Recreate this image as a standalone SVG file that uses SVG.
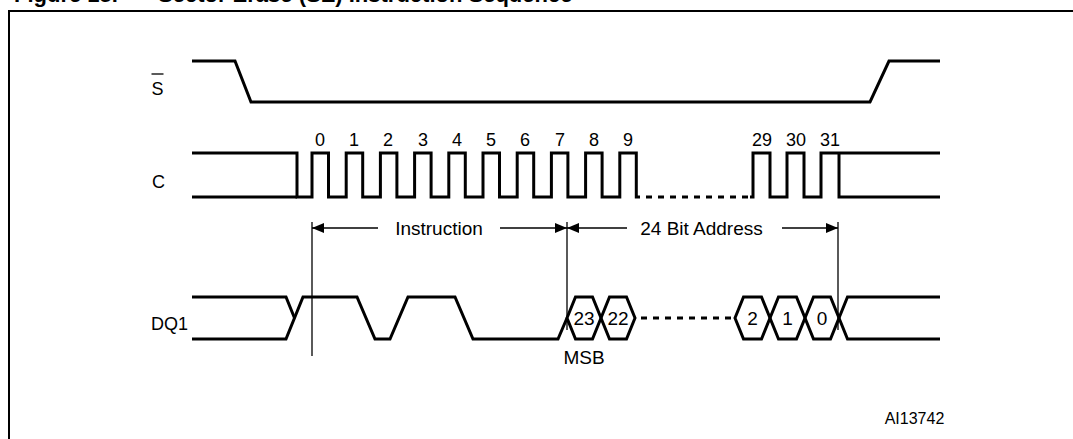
<svg xmlns="http://www.w3.org/2000/svg" width="1073" height="439" viewBox="0 0 1073 439">
<defs>
<marker id="ah" markerWidth="12" markerHeight="10" refX="12" refY="5" orient="auto" markerUnits="userSpaceOnUse">
<path d="M0,0 L12,5 L0,10 Z" fill="#000"/>
</marker>
</defs>
<style>
.sig{fill:none;stroke:#000;stroke-width:3;stroke-linejoin:miter}
.dot{fill:none;stroke:#000;stroke-width:3;stroke-dasharray:6 6}
.thin{fill:none;stroke:#000;stroke-width:1.3}
.t{font-family:"Liberation Sans",Arial,sans-serif;fill:#000}
.lbl{font-size:18px}
.num{font-size:18px;text-anchor:middle}
.mid{font-size:19px;text-anchor:middle}
.title{font-family:"Liberation Sans",Arial,sans-serif;font-weight:bold;font-size:22px}
</style>
<rect width="1073" height="439" fill="#fff"/>
<g id="title">
<text class="title" x="14" y="2">Figure 15.</text>
<text class="title" x="158" y="2">Sector Erase (SE) Instruction Sequence</text>
</g>
<rect x="9" y="11" width="1080" height="440" fill="none" stroke="#000" stroke-width="2"/>

<g id="sig-S">
<text class="t lbl" x="157.5" y="95" text-anchor="middle">S</text>
<line x1="151.5" y1="74" x2="163.5" y2="74" stroke="#000" stroke-width="1.3"/>
<path class="sig" d="M192,61 H235 L251,102 H870 L889,61 H940"/>
</g>

<g id="sig-C">
<text class="t lbl" x="158.5" y="188" text-anchor="middle">C</text>
<path class="sig" d="M192,153 H297 V197 H312 V153 H328.5 V197 H346.2 V153 H362.7 V197 H380.4 V153 H396.9 V197 H414.6 V153 H431.1 V197 H448.8 V153 H465.3 V197 H483 V153 H499.5 V197 H517.2 V153 H533.7 V197 H551.4 V153 H567.9 V197 H585.6 V153 H602.1 V197 H619.8 V153 H636.3 V197 H640"/>
<path class="sig" d="M192,197 H297"/>
<path class="dot" d="M646,197 H750"/>
<path class="sig" d="M750,197 H753 V153 H770 V197 H787 V153 H804 V197 H821 V153 H839 V197 H940 M839,153 H940"/>
<g class="t num">
<text x="320" y="146">0</text><text x="354" y="146">1</text><text x="388" y="146">2</text><text x="423" y="146">3</text><text x="457" y="146">4</text><text x="491" y="146">5</text><text x="525" y="146">6</text><text x="560" y="146">7</text><text x="594" y="146">8</text><text x="628" y="146">9</text>
<text x="762" y="146">29</text><text x="796" y="146">30</text><text x="830" y="146">31</text>
</g>
</g>

<g id="sig-DQ1">
<text class="t lbl" x="151" y="330">DQ1</text>
<path class="sig" d="M192,297 H286 L294.5,318"/>
<path class="sig" d="M192,339 H286 L303,297 H357 L375,339 H390 L408,297 H455 L473,339 H558 L567,318"/>
<polygon class="sig" points="567,318 575.5,297 592.5,297 601,318 592.5,339 575.5,339"/>
<polygon class="sig" points="601,318 609.5,297 626.5,297 635,318 626.5,339 609.5,339"/>
<path class="dot" d="M641,318 H735"/>
<polygon class="sig" points="735,318 743.5,297 761.5,297 770,318 761.5,339 743.5,339"/>
<polygon class="sig" points="770,318 778.5,297 796.5,297 805,318 796.5,339 778.5,339"/>
<polygon class="sig" points="805,318 813.5,297 830.5,297 839,318 830.5,339 813.5,339"/>
<path class="sig" d="M839,318 L847.5,297 H940 M839,318 L847.5,339 H940"/>
<g class="t mid">
<text x="584" y="325">23</text><text x="618" y="325">22</text>
<text x="752.5" y="325">2</text><text x="787.5" y="325">1</text><text x="822" y="325">0</text>
<text x="584" y="364">MSB</text>
</g>
</g>

<g id="connectors">
<line class="thin" x1="312" y1="222" x2="312" y2="356"/>
<line class="thin" x1="567" y1="222" x2="567" y2="330"/>
<line class="thin" x1="838" y1="222" x2="838" y2="330"/>
<line class="thin" x1="378" y1="228" x2="312" y2="228" marker-end="url(#ah)"/>
<line class="thin" x1="500" y1="228" x2="567" y2="228" marker-end="url(#ah)"/>
<line class="thin" x1="627" y1="228" x2="567" y2="228" marker-end="url(#ah)"/>
<line class="thin" x1="782" y1="228" x2="838" y2="228" marker-end="url(#ah)"/>
</g>

<g id="labels">
<text class="t mid" x="439" y="235">Instruction</text>
<text class="t mid" x="701.5" y="235">24 Bit Address</text>
<text class="t" x="914.5" y="424" font-size="16" text-anchor="middle">AI13742</text>
</g>
</svg>
